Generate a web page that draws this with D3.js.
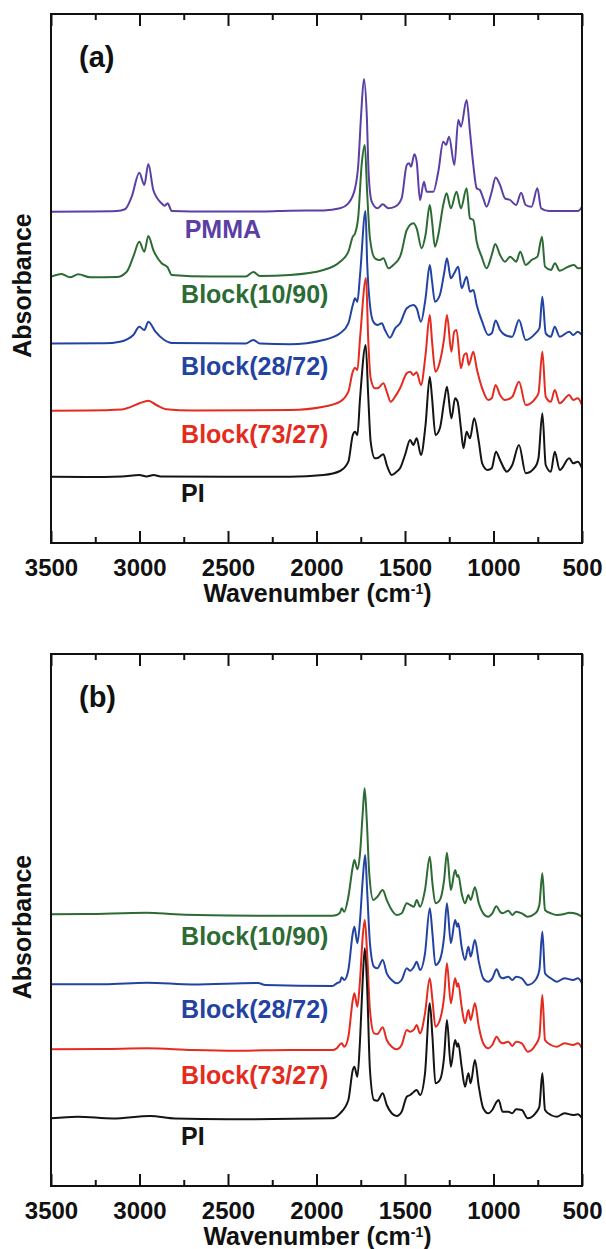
<!DOCTYPE html>
<html><head><meta charset="utf-8">
<script src="https://cdn.jsdelivr.net/npm/d3@7/dist/d3.min.js"></script>
<style>body{margin:0;background:#fff}text{font-family:"Liberation Sans",Arial,sans-serif;font-weight:bold}</style>
</head><body><svg id="chart" width="606" height="1249"></svg>
<script>
// ---- tick labels / axes ----
const majorTicks = [3500, 3000, 2500, 2000, 1500, 1000, 500];
const minorTicks = [3250, 2750, 2250, 1750, 1250, 750];
const xTitle = "Wavenumber (cm";
const yTitle = "Absorbance";
const panelLetters = ["(a)", "(b)"];

// ---- series names ----
const namesA = ["PMMA", "Block(10/90)", "Block(28/72)", "Block(73/27)", "PI"];
const namesB = ["Block(10/90)", "Block(28/72)", "Block(73/27)", "PI"];
const colors = {"PMMA":"#5b3fa5","Block(10/90)":"#2d6b35","Block(28/72)":"#2343a3","Block(73/27)":"#e52b20","PI":"#141414"};

// ---- panel (a) spectra: [wavenumber, absorbance (offset, a.u.)] ----
const pmmaA = [[3500,3.313],[3300,3.315],[3129,3.32],[3082,3.337],[3044,3.463],[3001,3.703],[2973,3.58],[2950,3.79],[2922,3.53],[2875,3.397],[2858,3.373],[2841,3.397],[2818,3.32],[2600,3.315],[2300,3.315],[2150,3.323],[1961,3.325],[1867,3.347],[1820,3.397],[1782,3.547],[1764,3.78],[1748,4.28],[1732,4.64],[1716,4.28],[1705,3.68],[1688,3.413],[1656,3.347],[1626,3.387],[1594,3.347],[1556,3.363],[1519,3.447],[1490,3.78],[1477,3.797],[1466,3.763],[1447,3.887],[1434,3.813],[1415,3.43],[1393,3.613],[1378,3.513],[1340,3.513],[1312,3.713],[1284,4.013],[1268,3.98],[1251,4.063],[1221,3.78],[1199,4.23],[1184,4.163],[1152,4.43],[1133,4.113],[1114,3.78],[1095,3.547],[1077,3.53],[1058,3.447],[1039,3.363],[1010,3.513],[988,3.655],[963,3.58],[935,3.447],[906,3.43],[872,3.38],[844,3.503],[818,3.38],[785,3.363],[752,3.547],[731,3.347],[686,3.32],[523,3.32],[500,3.363]];
const b1090A = [[3500,2.663],[3440,2.69],[3393,2.657],[3346,2.687],[3280,2.657],[3129,2.66],[3072,2.713],[3035,2.863],[3001,3.013],[2973,2.913],[2950,3.07],[2922,2.93],[2875,2.797],[2841,2.757],[2818,2.68],[2600,2.665],[2400,2.665],[2357,2.71],[2320,2.67],[2150,2.68],[1961,2.73],[1867,2.813],[1820,2.913],[1795,3.063],[1782,3.097],[1764,3.263],[1745,3.78],[1727,3.98],[1714,3.513],[1698,3.047],[1670,2.847],[1641,2.83],[1622,2.847],[1594,2.747],[1566,2.78],[1528,2.863],[1519,2.913],[1490,3.13],[1453,3.197],[1434,3.147],[1406,2.947],[1384,3.08],[1360,3.38],[1347,3.213],[1331,2.963],[1312,3.08],[1284,3.38],[1265,3.497],[1241,3.347],[1209,3.513],[1184,3.347],[1152,3.547],[1133,3.247],[1114,3.23],[1095,3.013],[1067,2.863],[1039,2.747],[1010,2.88],[990,2.99],[963,2.88],[935,2.813],[906,2.863],[872,2.813],[849,2.913],[818,2.78],[785,2.83],[752,2.863],[726,3.063],[709,2.763],[675,2.73],[653,2.797],[626,2.723],[578,2.763],[545,2.78],[523,2.747],[500,2.75]];
const b2872A = [[3500,1.995],[3200,1.997],[3110,2.013],[3035,2.08],[3001,2.163],[2973,2.13],[2950,2.213],[2910,2.113],[2860,2.03],[2818,2.0],[2400,1.995],[2357,2.03],[2320,1.995],[2150,1.987],[1961,2.03],[1867,2.097],[1820,2.197],[1795,2.38],[1782,2.447],[1769,2.413],[1754,2.68],[1723,3.32],[1714,2.813],[1698,2.38],[1679,2.213],[1656,2.18],[1631,2.197],[1613,2.13],[1585,2.053],[1556,2.147],[1528,2.197],[1490,2.347],[1453,2.38],[1434,2.347],[1410,2.213],[1384,2.447],[1360,2.78],[1347,2.613],[1331,2.413],[1303,2.48],[1279,2.697],[1263,2.847],[1241,2.647],[1222,2.697],[1199,2.763],[1180,2.547],[1152,2.663],[1133,2.513],[1114,2.53],[1095,2.38],[1064,2.213],[1030,2.08],[1010,2.097],[988,2.225],[963,2.13],[935,2.08],[894,2.063],[856,2.23],[818,2.03],[763,2.097],[740,2.15],[724,2.463],[705,2.097],[676,2.063],[654,2.163],[626,2.063],[572,2.113],[550,2.08],[524,2.113],[500,2.08]];
const b7327A = [[3500,1.323],[3300,1.325],[3100,1.335],[3072,1.347],[3000,1.397],[2950,1.423],[2905,1.38],[2850,1.337],[2700,1.325],[2150,1.33],[1961,1.363],[1867,1.413],[1820,1.513],[1795,1.713],[1782,1.753],[1769,1.73],[1754,2.047],[1720,2.65],[1708,2.047],[1694,1.647],[1670,1.547],[1655,1.547],[1622,1.597],[1603,1.513],[1581,1.413],[1556,1.463],[1528,1.547],[1490,1.697],[1471,1.713],[1453,1.68],[1434,1.707],[1410,1.58],[1384,1.88],[1360,2.28],[1347,2.013],[1328,1.713],[1303,1.813],[1279,2.047],[1263,2.28],[1238,1.913],[1222,2.113],[1209,2.13],[1184,1.747],[1166,1.88],[1152,1.897],[1140,1.78],[1114,1.913],[1095,1.747],[1064,1.547],[1030,1.43],[1010,1.447],[988,1.58],[963,1.48],[935,1.43],[894,1.463],[856,1.613],[818,1.38],[763,1.447],[746,1.497],[724,1.913],[705,1.463],[676,1.413],[654,1.53],[626,1.397],[572,1.48],[550,1.43],[524,1.447],[500,1.38]];
const piA = [[3500,0.663],[3300,0.66],[3100,0.665],[3000,0.68],[2960,0.665],[2920,0.68],[2880,0.665],[2500,0.663],[2150,0.663],[1961,0.68],[1867,0.72],[1820,0.813],[1795,1.08],[1782,1.113],[1769,1.08],[1754,1.447],[1722,1.98],[1708,1.48],[1694,1.013],[1670,0.847],[1651,0.853],[1622,0.887],[1603,0.78],[1575,0.68],[1547,0.713],[1528,0.747],[1500,0.88],[1471,1.03],[1453,0.98],[1434,1.047],[1410,0.88],[1384,1.18],[1360,1.663],[1347,1.447],[1328,1.08],[1303,1.147],[1279,1.413],[1263,1.563],[1238,1.247],[1217,1.447],[1203,1.413],[1184,1.147],[1170,0.947],[1152,1.113],[1133,1.047],[1109,1.247],[1083,1.013],[1064,0.797],[1033,0.73],[1010,0.747],[986,0.913],[963,0.83],[935,0.73],[927,0.713],[894,0.78],[856,0.98],[818,0.697],[763,0.763],[746,0.847],[724,1.297],[705,0.78],[676,0.713],[654,0.913],[626,0.73],[572,0.847],[550,0.797],[524,0.813],[500,0.747]];

// ---- panel (b) spectra ----
const b1090B = [[3500,2.717],[3300,2.72],[2958,2.733],[2800,2.717],[2500,2.705],[2259,2.703],[1910,2.703],[1886,2.71],[1867,2.733],[1858,2.777],[1843,2.743],[1820,2.893],[1795,3.193],[1786,3.26],[1769,3.167],[1754,3.327],[1739,3.727],[1728,3.977],[1716,3.66],[1702,3.127],[1679,2.86],[1656,2.893],[1626,2.96],[1603,2.86],[1575,2.76],[1547,2.71],[1519,2.727],[1490,2.827],[1471,2.81],[1449,2.793],[1434,2.86],[1415,2.793],[1387,2.96],[1360,3.293],[1345,3.027],[1328,2.827],[1303,2.86],[1279,3.06],[1263,3.333],[1241,2.96],[1217,3.16],[1205,3.093],[1199,3.11],[1180,2.927],[1161,2.827],[1142,2.91],[1129,2.86],[1105,2.987],[1083,2.827],[1058,2.727],[1030,2.693],[1007,2.727],[984,2.797],[963,2.743],[949,2.727],[916,2.753],[894,2.71],[872,2.743],[840,2.727],[807,2.693],[763,2.727],[741,2.81],[724,3.127],[709,2.76],[676,2.727],[643,2.71],[599,2.72],[572,2.733],[528,2.72],[500,2.693]];
const b2872B = [[3500,2.017],[3200,2.017],[2958,2.033],[2700,2.015],[2330,2.03],[2290,2.01],[1910,2.0],[1886,2.027],[1867,2.043],[1858,2.087],[1843,2.06],[1820,2.16],[1795,2.527],[1786,2.593],[1769,2.427],[1754,2.66],[1739,3.06],[1725,3.31],[1714,2.96],[1698,2.427],[1675,2.193],[1656,2.177],[1626,2.26],[1603,2.127],[1575,2.06],[1547,2.027],[1519,2.06],[1490,2.177],[1471,2.153],[1449,2.193],[1434,2.243],[1415,2.16],[1387,2.327],[1360,2.777],[1345,2.527],[1328,2.21],[1303,2.26],[1279,2.493],[1263,2.827],[1241,2.427],[1217,2.66],[1205,2.593],[1199,2.627],[1180,2.393],[1161,2.26],[1142,2.393],[1129,2.293],[1105,2.46],[1083,2.243],[1058,2.077],[1030,2.043],[1007,2.077],[982,2.167],[963,2.093],[949,2.077],[916,2.093],[894,2.06],[872,2.093],[840,2.077],[807,2.01],[763,2.06],[741,2.16],[724,2.543],[709,2.127],[676,2.077],[643,2.043],[599,2.077],[550,2.06],[523,2.077],[500,2.027]];
const b7327B = [[3500,1.367],[3200,1.37],[2958,1.377],[2700,1.36],[2450,1.353],[2150,1.36],[1910,1.36],[1886,1.377],[1858,1.427],[1843,1.393],[1820,1.493],[1795,1.86],[1786,1.927],[1769,1.793],[1754,2.06],[1739,2.493],[1727,2.66],[1714,2.327],[1698,1.76],[1675,1.527],[1656,1.52],[1626,1.587],[1603,1.46],[1575,1.393],[1547,1.367],[1519,1.41],[1490,1.56],[1471,1.543],[1449,1.567],[1434,1.61],[1415,1.527],[1387,1.727],[1360,2.077],[1345,1.86],[1328,1.593],[1303,1.66],[1279,1.893],[1263,2.227],[1241,1.827],[1217,2.077],[1205,1.993],[1199,2.027],[1180,1.793],[1161,1.627],[1142,1.76],[1129,1.66],[1105,1.827],[1083,1.593],[1058,1.427],[1030,1.377],[1007,1.41],[982,1.493],[963,1.443],[949,1.427],[916,1.443],[894,1.4],[872,1.443],[840,1.427],[807,1.343],[763,1.41],[741,1.493],[724,1.91],[709,1.46],[676,1.41],[643,1.393],[599,1.427],[550,1.41],[523,1.427],[500,1.377]];
const piB = [[3500,0.677],[3350,0.693],[3150,0.675],[2940,0.7],[2800,0.675],[2500,0.667],[1910,0.677],[1867,0.727],[1820,0.86],[1795,1.16],[1786,1.193],[1769,1.093],[1754,1.46],[1739,2.06],[1727,2.377],[1714,1.993],[1698,1.16],[1675,0.86],[1656,0.853],[1626,0.927],[1603,0.81],[1575,0.727],[1547,0.7],[1519,0.743],[1490,0.893],[1471,0.91],[1449,0.943],[1434,0.96],[1415,0.91],[1387,1.127],[1360,1.827],[1345,1.493],[1328,1.027],[1303,1.06],[1279,1.293],[1263,1.66],[1241,1.193],[1217,1.46],[1205,1.393],[1199,1.427],[1180,1.193],[1161,0.993],[1142,1.127],[1129,1.027],[1105,1.26],[1083,0.993],[1058,0.777],[1030,0.727],[1007,0.76],[982,0.843],[971,0.86],[949,0.743],[916,0.743],[894,0.727],[872,0.767],[840,0.76],[807,0.677],[763,0.727],[741,0.793],[724,1.127],[709,0.76],[676,0.71],[643,0.693],[599,0.727],[550,0.71],[523,0.717],[500,0.677]];

// label absorbance positions (text baseline level of each series name)
const labelA = [3.047, 2.40, 1.68, 1.005, 0.413];
const labelB = [2.41, 1.68, 1.02, 0.41];

const svg = d3.select("#chart");
const L = 51, R = 582;

const panels = [
  {top: 14, bottom: 543, ymax: 5.29, letter: panelLetters[0], names: namesA, data: [pmmaA, b1090A, b2872A, b7327A, piA], labels: labelA},
  {top: 654, bottom: 1186, ymax: 5.32, letter: panelLetters[1], names: namesB, data: [b1090B, b2872B, b7327B, piB], labels: labelB}
];

panels.forEach((p, pi) => {
  const x = d3.scaleLinear().domain([3500, 500]).range([L, R]);
  const y = d3.scaleLinear().domain([0, p.ymax]).range([p.bottom, p.top]);
  const g = svg.append("g");

  const clipId = "clip" + pi;
  svg.append("clipPath").attr("id", clipId).append("rect")
    .attr("x", L).attr("y", p.top).attr("width", R - L).attr("height", p.bottom - p.top);

  const line = d3.line().x(d => x(d[0])).y(d => y(d[1])).curve(d3.curveMonotoneX);
  p.data.forEach((s, i) => {
    g.append("path").attr("d", line(s)).attr("fill", "none")
      .attr("stroke", colors[p.names[i]]).attr("stroke-width", 2)
      .attr("stroke-linejoin", "round").attr("clip-path", `url(#${clipId})`);
  });

  const axB = g.append("g").attr("transform", `translate(0,${p.bottom})`)
    .call(d3.axisBottom(x).tickValues(majorTicks).tickSize(-12).tickPadding(16).tickFormat(d3.format("d")));
  axB.select(".domain").remove();
  axB.selectAll("line").attr("stroke", "#111").attr("stroke-width", 2);
  axB.selectAll("text").attr("fill", "#111").style("font-size", "24px")
    .style("font-family", '"Liberation Sans", Arial, sans-serif').style("font-weight", "bold");
  const axBm = g.append("g").attr("transform", `translate(0,${p.bottom})`)
    .call(d3.axisBottom(x).tickValues(minorTicks).tickSize(-6).tickFormat(""));
  axBm.select(".domain").remove();
  axBm.selectAll("line").attr("stroke", "#111").attr("stroke-width", 2);

  const axT = g.append("g").attr("transform", `translate(0,${p.top})`)
    .call(d3.axisTop(x).tickValues(majorTicks).tickSize(-12).tickFormat(""));
  axT.select(".domain").remove();
  axT.selectAll("line").attr("stroke", "#111").attr("stroke-width", 2);
  const axTm = g.append("g").attr("transform", `translate(0,${p.top})`)
    .call(d3.axisTop(x).tickValues(minorTicks).tickSize(-6).tickFormat(""));
  axTm.select(".domain").remove();
  axTm.selectAll("line").attr("stroke", "#111").attr("stroke-width", 2);

  g.append("rect").attr("x", L).attr("y", p.top).attr("width", R - L).attr("height", p.bottom - p.top)
    .attr("fill", "none").attr("stroke", "#111").attr("stroke-width", 2);

  p.names.forEach((n, i) => {
    g.append("text").attr("x", n === "PMMA" ? x(2745) : x(2765)).attr("y", y(p.labels[i]))
      .attr("fill", colors[n]).style("font-size", "25px").text(n);
  });

  g.append("text").attr("x", 79).attr("y", p.top + 53).attr("fill", "#111")
    .style("font-size", "29px").text(p.letter);

  const t = g.append("text").attr("x", (L + R) / 2 + 1).attr("y", p.bottom + 59)
    .attr("text-anchor", "middle").attr("fill", "#111").style("font-size", "25px");
  t.append("tspan").text(xTitle);
  t.append("tspan").attr("dy", -8).style("font-size", "14px").text("-1");
  t.append("tspan").attr("dy", 8).text(")");

  g.append("text").attr("transform", `translate(31,${(p.top + p.bottom) / 2 + 7}) rotate(-90)`)
    .attr("text-anchor", "middle").attr("fill", "#111").style("font-size", "25px").text(yTitle);
});
</script></body></html>
